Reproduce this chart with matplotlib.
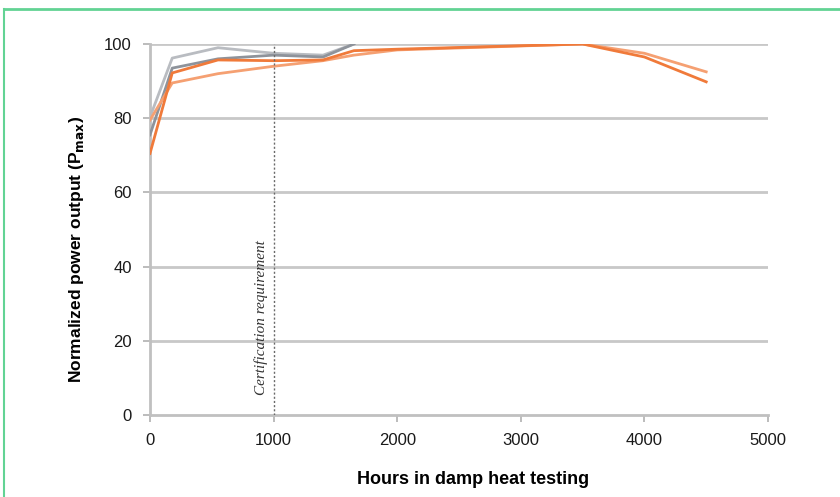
import matplotlib
matplotlib.use("Agg")
import matplotlib.pyplot as plt
from matplotlib.lines import Line2D

# hours in damp heat testing
hours_gray = [0, 180, 550, 1000, 1400, 1650]
gray_a = [80.3, 96.2, 99.0, 97.5, 97.0, 100.0]
gray_b = [75.5, 93.5, 96.0, 97.0, 96.5, 100.0]

hours_orange = [0, 180, 550, 1000, 1400, 1650, 2000, 3500, 4000, 4500]
orange_a = [70.5, 92.2, 95.7, 95.5, 95.7, 98.2, 98.6, 100.0, 96.5, 89.8]
orange_b = [79.5, 89.5, 92.0, 94.0, 95.5, 97.0, 98.4, 100.0, 97.5, 92.5]

x_ticks = [0, 1000, 2000, 3000, 4000, 5000]
y_ticks = [0, 20, 40, 60, 80, 100]
cert_hours = 1000

plt.rcParams["font.family"] = ["Liberation Sans", "DejaVu Sans"]

fig = plt.figure(figsize=(8.4, 4.97), dpi=100)
ax = fig.add_axes([150 / 840, 82 / 497, 618 / 840, 371 / 497])

for y in y_ticks[1:]:
    ax.axhline(y, color="#c8c8c8", linewidth=2, zorder=0)

ax.plot(hours_gray, gray_a, color="#b9bcc1", linewidth=2, zorder=3)
ax.plot(hours_gray, gray_b, color="#8e939b", linewidth=2, zorder=3)
ax.plot(hours_orange, orange_b, color="#f5a072", linewidth=2, zorder=4)
ax.plot(hours_orange, orange_a, color="#f07a3a", linewidth=2, zorder=4)

ax.axvline(cert_hours, ymin=0, ymax=1, color="#6a6a6a", linestyle=(0, (1.5, 1.5)),
           linewidth=1, zorder=5)
ax.text(cert_hours - 45, 5.4, "Certification requirement", rotation=90, fontsize=11,
        style="italic", family=["Liberation Serif", "DejaVu Serif"],
        color="#333333", ha="right", va="bottom")

ax.set_xlim(0, 5000)
ax.set_ylim(0, 100)
ax.set_xticks(x_ticks)
ax.set_yticks(y_ticks)
ax.tick_params(axis="both", labelsize=12, colors="#b0b0b0", labelcolor="#1a1a1a",
               length=5, width=1.2, direction="out", pad=8)

for side in ["top", "right"]:
    ax.spines[side].set_visible(False)
for side in ["left", "bottom"]:
    ax.spines[side].set_color("#c0c0c0")
    ax.spines[side].set_linewidth(2)

ax.set_xlabel("Hours in damp heat testing", fontsize=13, fontweight="bold")
ax.set_ylabel(r"Normalized power output (P$_{\mathbf{max}}$)", fontsize=12.5,
              fontweight="bold")
ax.xaxis.set_label_coords(0.523, -0.152)
ax.yaxis.set_label_coords(-0.103, 0.445)

# green frame of the panel
fig.add_artist(Line2D([4 / 840, 1], [1 - 9 / 497, 1 - 9 / 497], color="#62d394",
                      linewidth=2, transform=fig.transFigure))
fig.add_artist(Line2D([4 / 840, 4 / 840], [0, 1 - 9 / 497], color="#62d394",
                      linewidth=1.5, transform=fig.transFigure))

fig.savefig("out.png", dpi=100)
